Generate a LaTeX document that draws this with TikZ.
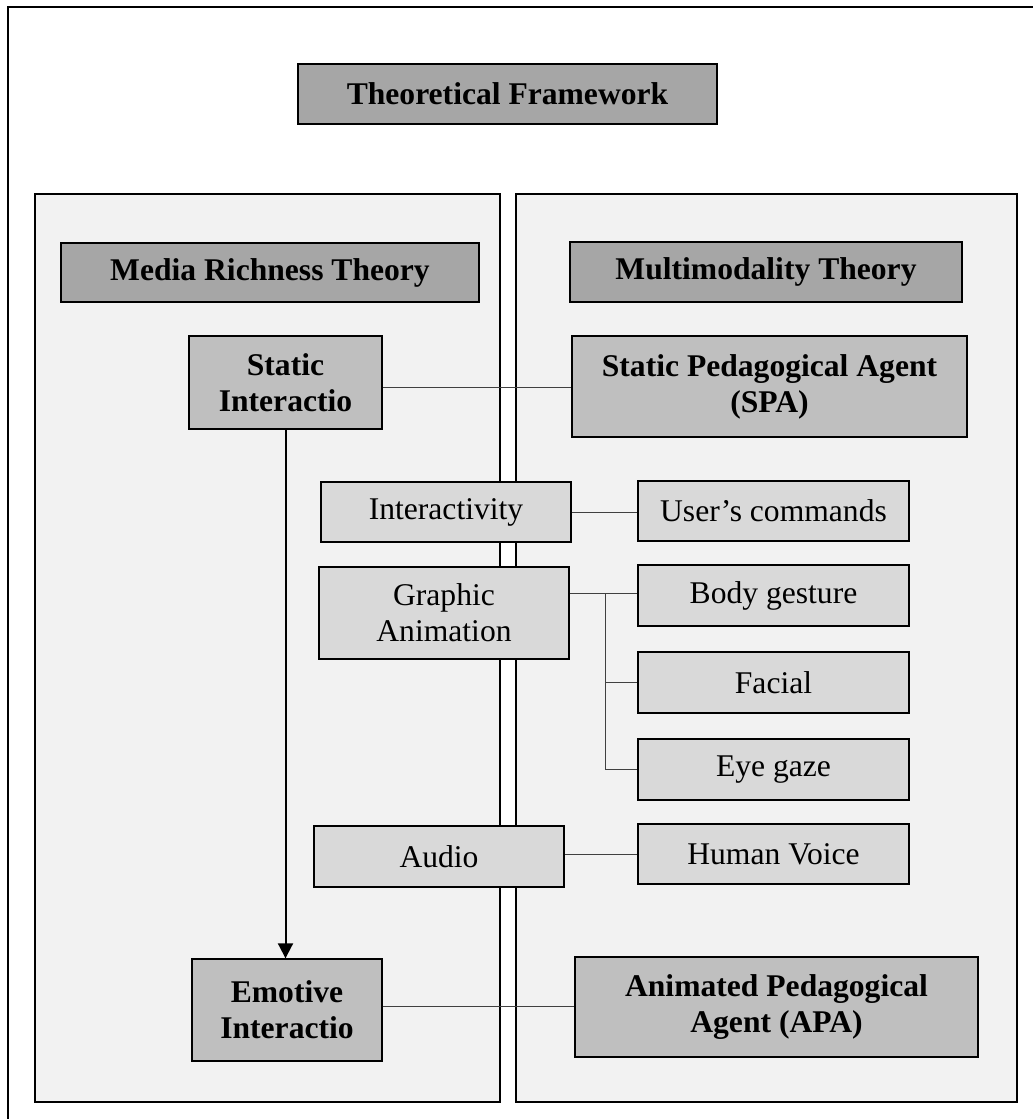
\documentclass[tikz,border=0pt]{standalone}
\usepackage{fontspec}
\setmainfont{Liberation Serif}
\usetikzlibrary{arrows.meta}
\definecolor{gA}{HTML}{A6A6A6}
\definecolor{gB}{HTML}{BFBFBF}
\definecolor{gC}{HTML}{D9D9D9}
\definecolor{gP}{HTML}{F2F2F2}
\definecolor{lnk}{HTML}{404040}
\newcommand\mysize{\fontsize{31.6}{36}\selectfont}
\tikzset{
  box/.style={draw, line width=1.4pt, inner sep=0pt, align=center},
  theory/.style={box, fill=gA, font=\mysize\bfseries},
  keybox/.style={box, fill=gB, font=\mysize\bfseries},
  itembox/.style={box, fill=gC, font=\mysize},
  panel/.style={draw, line width=2pt, fill=gP},
  link/.style={line width=1pt, draw=lnk},
}
\begin{document}
\begin{tikzpicture}[x=1pt,y=-1pt]
\useasboundingbox (0,0) rectangle (1033,1119);
\clip (0,0) rectangle (1033,1119);
\fill[white] (0,0) rectangle (1033,1119);
\draw[line width=2pt] (8,7) rectangle (1045,1135);
% panels
\draw[panel] (35,194) rectangle (500,1102);
\draw[panel] (516,194) rectangle (1017,1102);
% title and theories
\node[theory, minimum width=419, minimum height=60] (title) at (507.5,94) {Theoretical Framework};
\node[theory, minimum width=418, minimum height=59] (mrt) at (270,272.5) {Media Richness Theory};
\node[theory, minimum width=392, minimum height=60] (mmt) at (766,272) {Multimodality Theory};
% key boxes
\node[keybox, minimum width=193, minimum height=93] (si) at (285.5,382.5) {Static\\Interactio};
\node[keybox, minimum width=395, minimum height=101] (spa) at (769.5,386.5) {Static Pedagogical Agent\\(SPA)};
\node[keybox, minimum width=190, minimum height=102] (emo) at (287,1010) {Emotive\\Interactio};
\node[keybox, minimum width=403, minimum height=100] (apa) at (776.5,1007) {Animated Pedagogical\\Agent (APA)};
% items
\node[itembox, minimum width=250, minimum height=60] (inter) at (446,512) {Interactivity};
\node[itembox, minimum width=250, minimum height=92] (graph) at (444,613) {Graphic\\Animation};
\node[itembox, minimum width=250, minimum height=61] (audio) at (439,856.5) {Audio};
\node[itembox, minimum width=271, minimum height=60] (users) at (773.5,511) {User’s commands};
\node[itembox, minimum width=271, minimum height=61] (body) at (773.5,595.5) {Body gesture};
\node[itembox, minimum width=271, minimum height=61] (facial) at (773.5,682.5) {Facial};
\node[itembox, minimum width=271, minimum height=61] (eye) at (773.5,769.5) {Eye gaze};
\node[itembox, minimum width=271, minimum height=60] (voice) at (773.5,854) {Human Voice};
% connectors
\coordinate (yS) at (0,387);
\coordinate (yE) at (0,1006);
\coordinate (yG) at (0,593);
\coordinate (br) at (605,0);
\draw[link] (si.east |- yS) -- (spa.west |- yS);
\draw[link] (emo.east |- yE) -- (apa.west |- yE);
\draw[line width=2pt, -{Triangle[length=15pt,width=15pt]}] (si.south) -- (si.south |- emo.north);
\draw[link] (inter.east) -- (inter.east -| users.west);
\draw[link] (graph.east |- yG) -- (body.west |- yG);
\draw[link] (br |- yG) -- (br |- eye.west) -- (eye.west);
\draw[link] (br |- facial.west) -- (facial.west);
\draw[link] (audio.east |- voice.west) -- (voice.west);
\end{tikzpicture}
\end{document}
